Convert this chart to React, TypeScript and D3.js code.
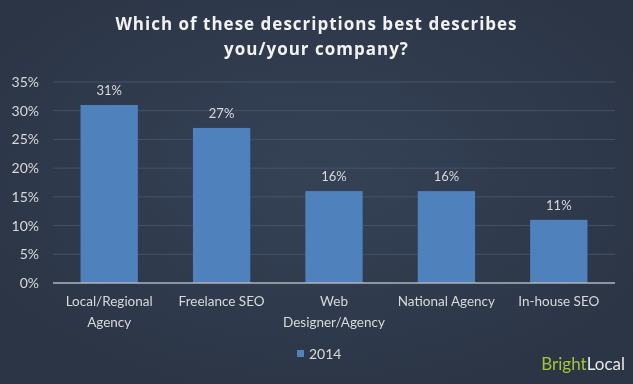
import React from "react";
import * as d3 from "d3";

const categories: string[][] = [
  ["Local/Regional", "Agency"],
  ["Freelance SEO"],
  ["Web", "Designer/Agency"],
  ["National Agency"],
  ["In-house SEO"],
];
const values: number[] = [31, 27, 16, 16, 11];
const yTicks: number[] = [0, 5, 10, 15, 20, 25, 30, 35];
const seriesName = "2014";
const titleLines = ["Which of these descriptions best describes", "you/your company?"];

const W = 633;
const H = 384;
const M = { left: 53, right: 18, top: 82, bottom: 101 };

export default function App() {
  const x = d3
    .scaleBand<number>()
    .domain(values.map((_, i) => i))
    .range([M.left, W - M.right])
    .paddingInner(0.49)
    .paddingOuter(0.245);
  const y = d3.scaleLinear().domain([0, 35]).range([H - M.bottom, M.top]);
  const font = "Lato, 'Open Sans', sans-serif";
  return (
    <div style={{ position: "fixed", left: 0, top: 0 }}>
      <svg width={W} height={H} style={{ display: "block" }}>
        <defs>
          <radialGradient id="bg" cx="50%" cy="45%" r="60%">
            <stop offset="0%" stopColor="#354256" />
            <stop offset="100%" stopColor="#2b3546" />
          </radialGradient>
        </defs>
        <rect width={W} height={H} fill="url(#bg)" />
        {titleLines.map((t, i) => (
          <text
            key={i}
            x={W / 2}
            y={30 + i * 25}
            textAnchor="middle"
            fill="#f2f2f2"
            fontFamily="'Open Sans', sans-serif"
            fontWeight="bold"
            fontSize={17}
            letterSpacing={1}
          >
            {t}
          </text>
        ))}
        {yTicks.map((t) => (
          <g key={t}>
            {t > 0 && (
              <line x1={M.left} x2={W - M.right} y1={y(t)} y2={y(t)} stroke="#46526a" strokeWidth={1} />
            )}
            <text
              x={39}
              y={y(t) + 5}
              textAnchor="end"
              fill="#d9d9d9"
              fontFamily={font}
              fontSize={14}
            >
              {t}%
            </text>
          </g>
        ))}
        {values.map((v, i) => (
          <g key={i}>
            <rect x={x(i)} y={y(v)} width={x.bandwidth()} height={y(0) - y(v)} fill="#4f81bd" />
            <text
              x={(x(i) as number) + x.bandwidth() / 2}
              y={y(v) - 10}
              textAnchor="middle"
              fill="#d9d9d9"
              fontFamily={font}
              fontSize={13}
            >
              {v}%
            </text>
            {categories[i].map((l, j) => (
              <text
                key={j}
                x={(x(i) as number) + x.bandwidth() / 2}
                y={y(0) + 23 + j * 21}
                textAnchor="middle"
                fill="#d9d9d9"
                fontFamily={font}
                fontSize={13.5}
              >
                {l}
              </text>
            ))}
          </g>
        ))}
        <line x1={M.left} x2={W - M.right} y1={y(0)} y2={y(0)} stroke="#b0b4bc" strokeWidth={1.5} />
        <rect x={297} y={350} width={7} height={7} fill="#4f81bd" />
        <text x={309} y={359} fill="#d9d9d9" fontFamily={font} fontSize={14}>
          {seriesName}
        </text>
        <text x={625} y={370} textAnchor="end" fontFamily={font} fontSize={17}>
          <tspan fill="#a4c43c">Bright</tspan>
          <tspan fill="#e8e8e8">Local</tspan>
        </text>
      </svg>
    </div>
  );
}
